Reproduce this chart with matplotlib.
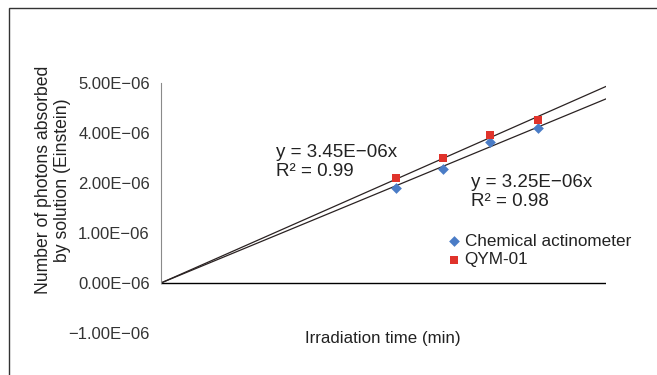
import matplotlib
matplotlib.use("Agg")
import matplotlib.pyplot as plt
from matplotlib.patches import Rectangle
import numpy as np

plt.rcParams['font.family'] = ['Liberation Sans', 'DejaVu Sans']

# irradiation time (arbitrary units along the axis, no tick labels in the source)
time = np.array([5, 6, 7, 8])
# photons absorbed, in units of 1E-06 Einstein
actinometer = np.array([1.90, 2.28, 2.82, 3.10])
qym01 = np.array([2.10, 2.50, 2.96, 3.26])

# tick labels as printed in the source (positions one step apart)
ytick_pos = [4, 3, 2, 1, 0, -1]
ytick_lbl = ["5.00E\u221206", "4.00E\u221206", "2.00E\u221206", "1.00E\u221206",
             "0.00E\u221206", "\u22121.00E\u221206"]

BLUE = "#4a7cc6"
RED = "#e0332b"
LINE = "#2a2222"

fig = plt.figure(figsize=(6.57, 3.75), dpi=100)
fig.patch.set_facecolor("white")
fig.add_artist(Rectangle((0.0137, -0.1), 1.2, 1.079, transform=fig.transFigure,
                         fill=False, ec="#333333", lw=1.0))

ax = fig.add_axes([0.245, 0.112, 0.677, 0.667])
xmax = 9.45
ax.set_xlim(0, xmax)
ax.set_ylim(-1, 4)

# trendlines through origin (least squares)
xs = np.array([0, xmax])
for y in (qym01, actinometer):
    k = np.sum(time * y) / np.sum(time * time)
    ax.plot(xs, k * xs, color=LINE, lw=0.9, zorder=2)

ax.scatter(time, actinometer, marker="D", s=30, color=BLUE, zorder=3,
           label="Chemical actinometer", linewidths=0)
ax.scatter(time, qym01, marker="s", s=36, color=RED, zorder=3,
           label="QYM-01", linewidths=0)

for s in ("top", "right", "bottom"):
    ax.spines[s].set_visible(False)
ax.spines["left"].set_bounds(0, 4)
ax.spines["left"].set_color("#8a8a8a")
ax.axhline(0, color="black", lw=1.0, zorder=1)
ax.set_xticks([])
ax.set_yticks(ytick_pos)
ax.set_yticklabels(ytick_lbl)
ax.tick_params(axis="y", length=0, pad=8, labelsize=12, labelcolor="#333333")

ax.text(2.44, 2.42, "y = 3.45E\u221206x\nR\u00b2 = 0.99", fontsize=13.5, color="#222222",
        va="center", ha="left", linespacing=1.15)
ax.text(6.58, 1.82, "y = 3.25E\u221206x\nR\u00b2 = 0.98", fontsize=13.5, color="#222222",
        va="center", ha="left", linespacing=1.15)

ax.legend(loc="upper left", bbox_to_anchor=(0.625, 0.425), frameon=False, fontsize=12.3,
          handletextpad=0.1, borderaxespad=0, labelspacing=0.22, handlelength=1.0,
          labelcolor="#222222")

fig.text(0.583, 0.098, "Irradiation time (min)", ha="center", va="center",
         fontsize=12.2, color="#222222")
fig.text(0.08, 0.52, "Number of photons absorbed\nby solution (Einstein)", ha="center",
         va="center", rotation=90, fontsize=12.7, color="#222222", linespacing=1.15)

fig.savefig("out.png", dpi=100)
